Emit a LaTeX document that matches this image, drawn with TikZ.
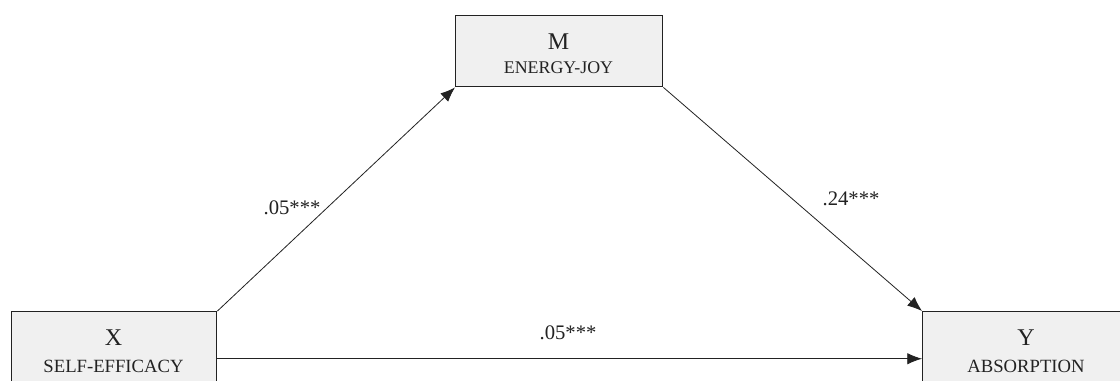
\documentclass[tikz,border=0pt]{standalone}
\usepackage{fontspec}
\setmainfont{Liberation Serif}
\usetikzlibrary{arrows.meta}
\definecolor{boxfill}{HTML}{F0F0F0}
\definecolor{ink}{HTML}{222222}
\begin{document}
\begin{tikzpicture}[x=0.75pt,y=-0.75pt,
  box/.style={draw=ink, line width=1.1pt, fill=boxfill, rectangle, anchor=north west, inner sep=0pt},
  big/.style={anchor=base, text=ink, font=\fontsize{18}{20}\selectfont, inner sep=0pt},
  small/.style={anchor=base, text=ink, font=\fontsize{14}{16}\selectfont, inner sep=0pt},
  coef/.style={text=ink, font=\fontsize{15.5}{17}\selectfont, inner sep=0pt},
  arr/.style={draw=ink, line width=0.6pt, -{Latex[length=11pt,width=8.5pt]}}]
\useasboundingbox (0,0) rectangle (1120,381);
\clip (0,0) rectangle (1120,381);
\fill[white] (0,0) rectangle (1120,381);
% boxes
\node[box, minimum width=153.75pt, minimum height=70.5pt] (X) at (11,311) {};
\node[box, minimum width=155.25pt, minimum height=53.25pt] (M) at (455,15) {};
\node[box, minimum width=156pt, minimum height=70.5pt] (Y) at (922,311) {};
% box texts
\node[big] (Xa) at (113.5,345) {X};
\node[small] (Xb) at (113.5,372) {SELF-EFFICACY};
\node[big] (Ma) at (558.5,50) {M};
\node[small, font=\fontsize{13.4}{15}\selectfont] (Mb) at (558.5,74) {ENERGY-JOY};
\node[big] (Ya) at (1026,345) {Y};
\node[small] (Yb) at (1026,372) {ABSORPTION};
% connectors
\draw[arr] (X.north east) -- (M.south west);
\draw[arr] (M.south east) -- (Y.north west);
\draw[arr] (X.east) -- (Y.west);
% coefficients
\node[coef] (a) at (292,208) {.05***};
\node[coef] (b) at (851,199) {.24***};
\node[coef] (c) at (568,333) {.05***};
\end{tikzpicture}
\end{document}
